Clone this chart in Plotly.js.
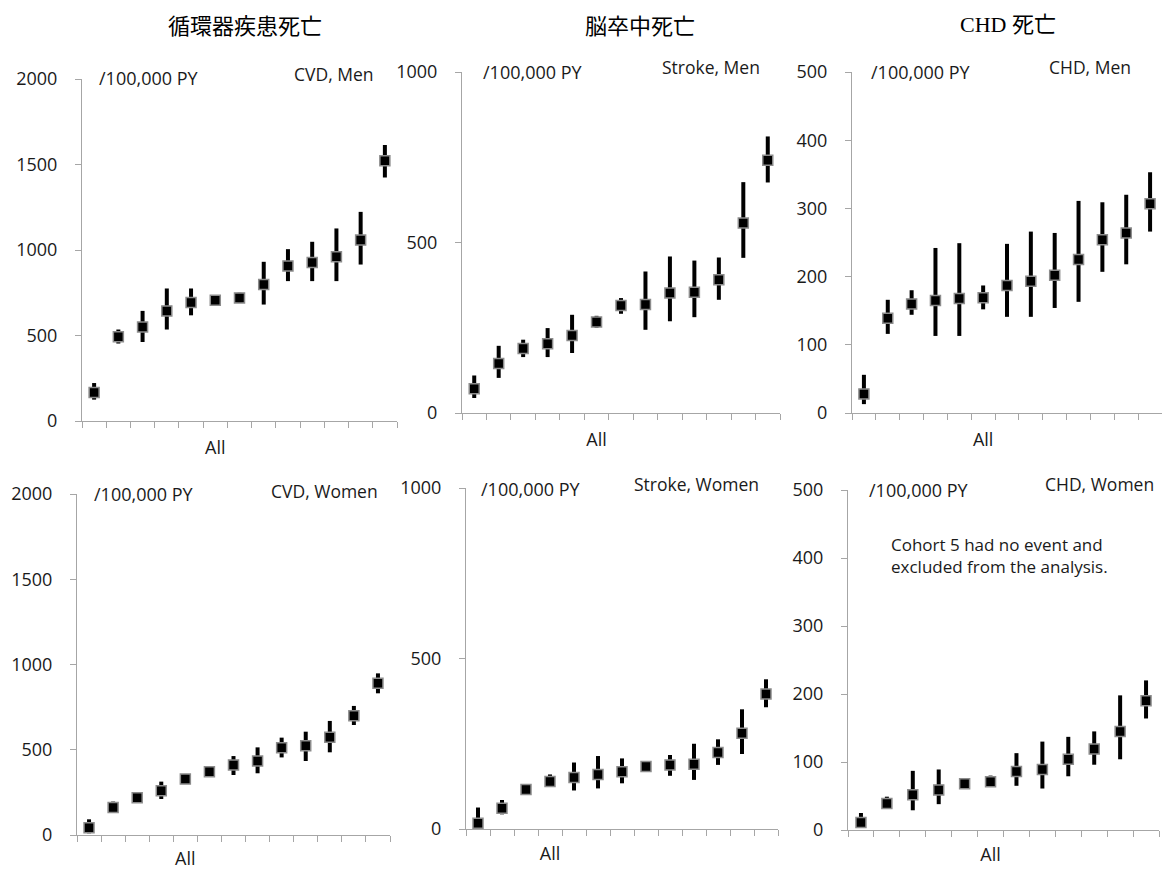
<!DOCTYPE html>
<html><head><meta charset="utf-8">
<script src="https://cdn.plot.ly/plotly-3.0.1.min.js"></script>
<style>body{margin:0;background:#fff}#chart{width:1162px;height:871px}</style>
</head><body><div id="chart"></div>
<script>
// ---- data (rate per 100,000 PY, with 95% CI) ----
const cvdMenLabels    = ['', '', '', '', '', 'All', '', '', '', '', '', '', ''];
const cvdMenRate      = [166, 492, 550, 644, 693, 706, 720, 798, 907, 927, 960, 1058, 1522];
const cvdMenUpper     = [222, 535, 644, 775, 775, 726, 750, 931, 1005, 1048, 1126, 1223, 1614];
const cvdMenLower     = [125, 453, 462, 535, 618, 685, 690, 681, 818, 818, 818, 915, 1424];

const strokeMenLabels = ['', '', '', '', '', 'All', '', '', '', '', '', '', ''];
const strokeMenRate   = [71, 145, 189, 203, 227, 267, 315, 318, 352, 354, 391, 557, 741];
const strokeMenUpper  = [110, 197, 215, 249, 288, 285, 337, 415, 459, 447, 456, 677, 811];
const strokeMenLower  = [44, 103, 164, 164, 176, 250, 291, 244, 269, 281, 332, 455, 676];

const chdMenLabels    = ['', '', '', '', '', 'All', '', '', '', '', '', '', ''];
const chdMenRate      = [28, 139, 160, 165, 168, 169, 187, 193, 202, 225, 254, 264, 307];
const chdMenUpper     = [56, 166, 180, 242, 249, 187, 248, 266, 264, 311, 309, 320, 353];
const chdMenLower     = [13, 116, 144, 113, 113, 152, 141, 141, 154, 163, 207, 218, 266];

const cvdWomenLabels  = ['', '', '', '', 'All', '', '', '', '', '', '', '', ''];
const cvdWomenRate    = [43, 162, 219, 260, 328, 371, 411, 434, 512, 524, 573, 700, 890];
const cvdWomenUpper   = [92, 196, 240, 313, 358, 391, 463, 514, 571, 606, 669, 757, 948];
const cvdWomenLower   = [10, 131, 196, 211, 303, 346, 352, 362, 455, 434, 485, 645, 831];

const strokeWomenLabels = ['', '', '', 'All', '', '', '', '', '', '', '', '', ''];
const strokeWomenRate   = [17, 61, 116, 139, 151, 160, 168, 183, 188, 190, 224, 281, 396];
const strokeWomenUpper  = [63, 85, 129, 160, 195, 214, 207, 193, 217, 250, 263, 351, 439];
const strokeWomenLower  = [0, 43, 103, 124, 113, 119, 134, 173, 156, 144, 188, 220, 357];

const chdWomenLabels  = ['', '', '', '', '', 'All', '', '', '', '', '', ''];
const chdWomenRate    = [11, 39, 52, 59, 68, 71, 86, 89, 104, 119, 145, 190];
const chdWomenUpper   = [25, 49, 87, 89, 74, 80, 113, 130, 137, 145, 198, 220];
const chdWomenLower   = [5, 31, 29, 38, 61, 64, 65, 61, 79, 96, 104, 164];

const columnTitles = ['循環器疾患死亡', '脳卒中死亡', 'CHD 死亡'];
const panelNames   = ['CVD, Men', 'Stroke, Men', 'CHD, Men', 'CVD, Women', 'Stroke, Women', 'CHD, Women'];
const unitLabel    = '/100,000 PY';
const noteText     = 'Cohort 5 had no event and<br>excluded from the analysis.';
const yMax   = [2000, 1000, 500, 2000, 1000, 500];
const yStep  = [500, 500, 100, 500, 500, 100];

// ---- layout helpers (pixel boxes) ----
const W = 1162, H = 871;
const boxes = [
  {l: 82,  r: 397,  t: 79, b: 421},
  {l: 462, r: 780,  t: 72, b: 413},
  {l: 852, r: 1162, t: 72, b: 413},
  {l: 77,  r: 390,  t: 494, b: 835},
  {l: 466, r: 778,  t: 488, b: 829},
  {l: 848, r: 1159, t: 490, b: 830}
];
const unitPos  = [[97,78],[481,72],[869,72],[92,494],[479,489],[867,490]];
const namePos  = [[376,74],[762,67],[1133,67],[380,491],[761,484],[1156,484]];
const xStandoff = [10, 10, 10, 7, 8, 8];

const panels = [
  [cvdMenLabels, cvdMenRate, cvdMenUpper, cvdMenLower],
  [strokeMenLabels, strokeMenRate, strokeMenUpper, strokeMenLower],
  [chdMenLabels, chdMenRate, chdMenUpper, chdMenLower],
  [cvdWomenLabels, cvdWomenRate, cvdWomenUpper, cvdWomenLower],
  [strokeWomenLabels, strokeWomenRate, strokeWomenUpper, strokeWomenLower],
  [chdWomenLabels, chdWomenRate, chdWomenUpper, chdWomenLower]
];

const FONT = 'Open Sans, Liberation Sans, sans-serif';
const AXC = '#a6a6a6';
const TXC = '#1a1a1a';
const traces = [];
const layout = {
  width: W, height: H, showlegend: false,
  margin: {l: 0, r: 0, t: 0, b: 0},
  paper_bgcolor: '#fff', plot_bgcolor: '#fff',
  font: {family: FONT, color: TXC, size: 18},
  annotations: []
};

panels.forEach((p, i) => {
  const [labels, rate, upper, lower] = p;
  const n = labels.length;
  const xs = labels.map((_, j) => j + 1);
  const sfx = i === 0 ? '' : String(i + 1);
  traces.push({
    type: 'scatter', mode: 'markers',
    x: xs, y: rate,
    xaxis: 'x' + sfx, yaxis: 'y' + sfx,
    marker: {symbol: 'square', size: 10, color: '#000', line: {color: '#8c8c8c', width: 1.5}},
    error_y: {
      type: 'data', symmetric: false,
      array: upper.map((u, j) => u - rate[j]),
      arrayminus: lower.map((lo, j) => rate[j] - lo),
      color: '#000', thickness: 4, width: 0
    },
    hoverinfo: 'skip'
  });
  const bx = boxes[i];
  const tickIdx = [], tickTxt = [];
  labels.forEach((lab, j) => { if (lab) { tickIdx.push(j + 1); tickTxt.push(lab); } });
  const bounds = [];
  for (let j = 0; j <= n; j++) bounds.push(j + 0.5);
  layout['xaxis' + sfx] = {
    domain: [bx.l / W, bx.r / W], anchor: 'y' + sfx,
    range: [0.5, n + 0.5], showgrid: false, zeroline: false,
    showline: true, linecolor: AXC, linewidth: 1,
    tickmode: 'array', tickvals: tickIdx, ticktext: tickTxt, ticks: '',
    ticklabelstandoff: xStandoff[i],
    minor: {tickmode: 'array', tickvals: bounds, ticks: 'outside', ticklen: 6, tickcolor: AXC, showgrid: false},
    tickfont: {family: FONT, size: 18, color: TXC},
    fixedrange: true
  };
  layout['yaxis' + sfx] = {
    domain: [1 - bx.b / H, 1 - bx.t / H], anchor: 'x' + sfx,
    range: [0, yMax[i]], dtick: yStep[i], tick0: 0,
    showgrid: false, zeroline: false,
    showline: true, linecolor: AXC, linewidth: 1,
    ticks: 'outside', ticklen: 6, tickcolor: AXC,
    ticklabelstandoff: 14,
    tickfont: {family: FONT, size: 18, color: TXC},
    fixedrange: true
  };
  layout.annotations.push({
    xref: 'paper', yref: 'paper', x: unitPos[i][0] / W, y: 1 - unitPos[i][1] / H,
    xanchor: 'left', yanchor: 'middle', showarrow: false, text: unitLabel,
    font: {family: FONT, size: 18, color: TXC}
  });
  layout.annotations.push({
    xref: 'paper', yref: 'paper', x: namePos[i][0] / W, y: 1 - namePos[i][1] / H,
    xanchor: 'right', yanchor: 'middle', showarrow: false, text: panelNames[i],
    font: {family: FONT, size: 17.5, color: TXC}
  });
});

layout.annotations.push({
  xref: 'paper', yref: 'paper', x: 889 / W, y: 1 - 555 / H,
  xanchor: 'left', yanchor: 'middle', align: 'left', showarrow: false, text: noteText,
  font: {family: FONT, size: 17, color: TXC}
});

const titleX = [245, 640, 1008];
columnTitles.forEach((t, k) => {
  layout.annotations.push({
    xref: 'paper', yref: 'paper', x: titleX[k] / W, y: 1 - 24 / H,
    xanchor: 'center', yanchor: 'middle', showarrow: false, text: t,
    font: {family: k === 2 ? 'Liberation Serif, Noto Sans CJK JP, serif' : 'Noto Sans CJK JP, sans-serif', size: 22, color: '#000'}
  });
});

Plotly.newPlot('chart', traces, layout, {staticPlot: true, displayModeBar: false});
</script>
</body></html>
